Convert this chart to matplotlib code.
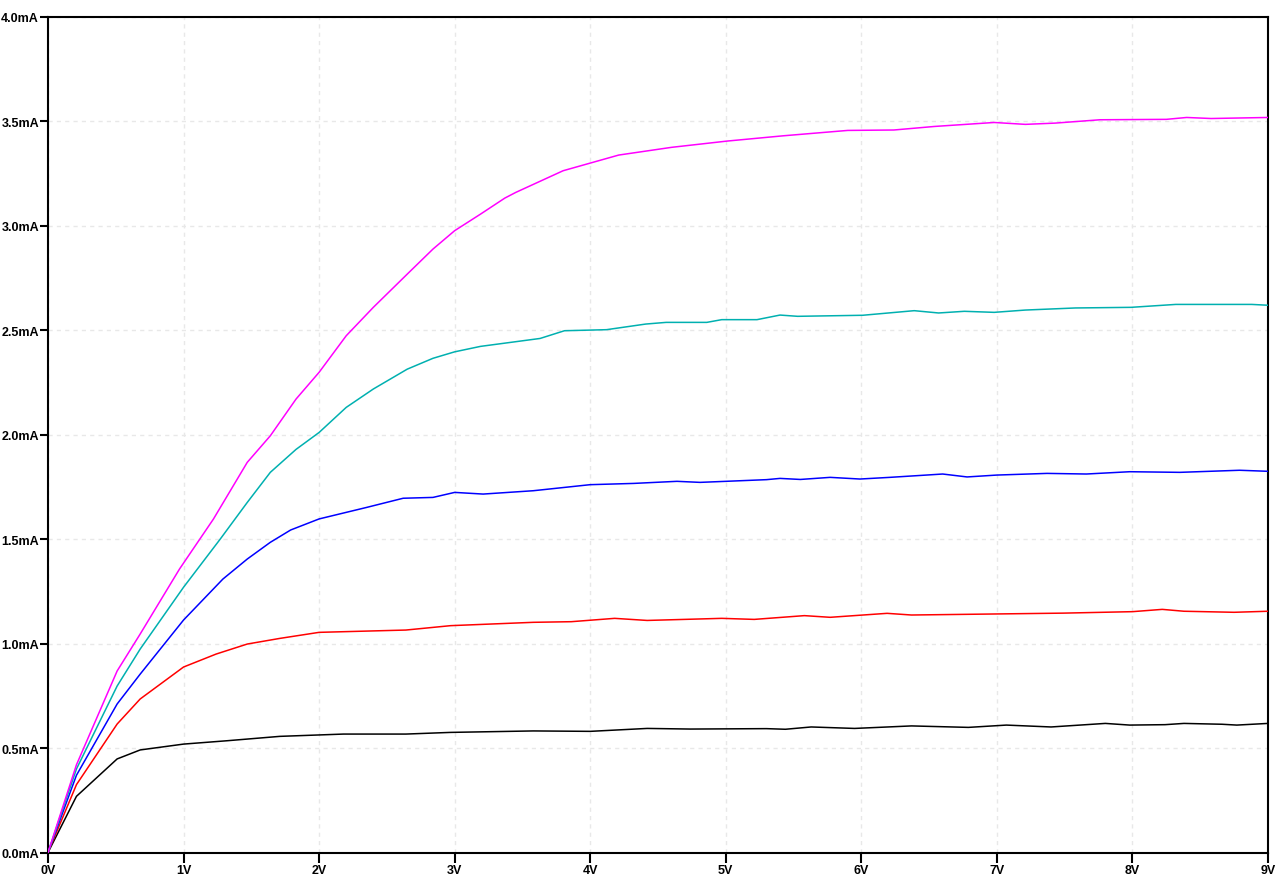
import matplotlib
matplotlib.use("Agg")
import matplotlib.pyplot as plt
from matplotlib.ticker import FuncFormatter

# ---- data (V in volts, I in mA) ----
v_black = [0, 0.21, 0.51, 0.68, 1.0, 1.32, 1.71, 2.18, 2.64, 2.97, 3.58, 4.0, 4.42, 4.74, 5.30, 5.44,
           5.63, 5.95, 6.37, 6.79, 7.07, 7.40, 7.80, 7.98, 8.24, 8.38, 8.66, 8.77, 9.0]
i_black = [0, 0.269, 0.448, 0.491, 0.519, 0.535, 0.556, 0.567, 0.567, 0.575, 0.582, 0.580, 0.594, 0.591,
           0.593, 0.590, 0.601, 0.594, 0.606, 0.599, 0.610, 0.601, 0.618, 0.610, 0.612, 0.618, 0.614, 0.610, 0.618]

v_red = [0, 0.21, 0.51, 0.68, 1.0, 1.24, 1.47, 1.71, 2.0, 2.64, 2.97, 3.58, 3.86, 4.18, 4.42, 4.97, 5.21,
         5.58, 5.77, 6.19, 6.37, 7.49, 8.0, 8.22, 8.38, 8.75, 9.0]
i_red = [0, 0.325, 0.615, 0.735, 0.888, 0.95, 0.998, 1.025, 1.054, 1.065, 1.086, 1.102, 1.105, 1.121, 1.111,
         1.121, 1.116, 1.134, 1.126, 1.145, 1.137, 1.146, 1.153, 1.164, 1.155, 1.150, 1.155]

v_blue = [0, 0.21, 0.51, 0.68, 1.0, 1.29, 1.47, 1.64, 1.79, 2.0, 2.35, 2.62, 2.84, 3.0, 3.21, 3.58, 4.0,
          4.32, 4.64, 4.81, 5.0, 5.30, 5.40, 5.55, 5.77, 5.99, 6.21, 6.48, 6.60, 6.78, 7.0, 7.37, 7.66,
          7.98, 8.35, 8.79, 9.0]
i_blue = [0, 0.37, 0.711, 0.854, 1.113, 1.309, 1.405, 1.485, 1.544, 1.597, 1.652, 1.696, 1.700, 1.724, 1.716,
          1.732, 1.761, 1.767, 1.777, 1.772, 1.777, 1.785, 1.791, 1.786, 1.796, 1.788, 1.796, 1.807, 1.812,
          1.798, 1.807, 1.815, 1.812, 1.823, 1.820, 1.830, 1.825]

v_cyan = [0, 0.21, 0.51, 0.68, 1.0, 1.27, 1.47, 1.64, 1.83, 2.0, 2.20, 2.40, 2.65, 2.84, 3.0, 3.19, 3.63,
          3.81, 4.12, 4.41, 4.56, 4.86, 4.97, 5.23, 5.40, 5.53, 6.01, 6.39, 6.57, 6.76, 6.98, 7.21, 7.58,
          7.99, 8.32, 8.88, 9.0]
i_cyan = [0, 0.40, 0.797, 0.974, 1.27, 1.50, 1.676, 1.82, 1.93, 2.011, 2.131, 2.219, 2.314, 2.366, 2.397,
          2.423, 2.461, 2.498, 2.503, 2.530, 2.538, 2.538, 2.551, 2.551, 2.573, 2.567, 2.572, 2.594, 2.583,
          2.591, 2.586, 2.597, 2.607, 2.610, 2.624, 2.624, 2.620]

v_magenta = [0, 0.21, 0.51, 0.68, 0.97, 1.22, 1.47, 1.64, 1.83, 2.0, 2.20, 2.40, 2.65, 2.84, 3.0, 3.19,
             3.37, 3.45, 3.80, 4.21, 4.60, 5.01, 5.42, 5.90, 6.24, 6.54, 6.98, 7.21, 7.43, 7.76, 8.25,
             8.40, 8.58, 9.0]
i_magenta = [0, 0.42, 0.869, 1.046, 1.357, 1.596, 1.868, 1.995, 2.171, 2.299, 2.474, 2.610, 2.769, 2.889,
             2.977, 3.056, 3.133, 3.160, 3.264, 3.339, 3.376, 3.406, 3.431, 3.457, 3.459, 3.476, 3.495,
             3.486, 3.492, 3.508, 3.510, 3.519, 3.514, 3.519]

x_ticks = list(range(0, 10))
y_ticks = [0.0, 0.5, 1.0, 1.5, 2.0, 2.5, 3.0, 3.5, 4.0]

W, H = 1276, 879
fig = plt.figure(figsize=(W / 100, H / 100), dpi=100)
ax = fig.add_axes([48 / W, 25.5 / H, 1220 / W, 835.5 / H])

series = [
    (v_black, i_black, "#000000"),
    (v_red, i_red, "#ff0000"),
    (v_blue, i_blue, "#0000ff"),
    (v_cyan, i_cyan, "#00b0b0"),
    (v_magenta, i_magenta, "#ff00ff"),
]
for v, i, c in series:
    ax.plot(v, i, color=c, lw=1.1, zorder=3)

ax.set_xlim(0, 9)
ax.set_ylim(0, 4)
ax.set_xticks(x_ticks)
ax.set_yticks(y_ticks)
ax.xaxis.set_major_formatter(FuncFormatter(lambda x, p: f"{int(round(x))}V"))
ax.yaxis.set_major_formatter(FuncFormatter(lambda y, p: f"{y:.1f}mA"))
ax.grid(True, color="#e8e8e8", linestyle=(0, (3, 3)), lw=1.0, zorder=0)
for s in ax.spines.values():
    s.set_linewidth(1.5)
    s.set_color("black")
ax.tick_params(axis="y", direction="out", length=6, width=1.5, colors="black", pad=0.5)
ax.tick_params(axis="x", direction="out", length=7, width=1.5, colors="black", pad=1.5)
for lbl in ax.get_xticklabels() + ax.get_yticklabels():
    lbl.set_fontweight("bold")
    lbl.set_fontsize(9)
    lbl.set_family("Liberation Sans")

fig.savefig("out.png", dpi=100, facecolor="white")
